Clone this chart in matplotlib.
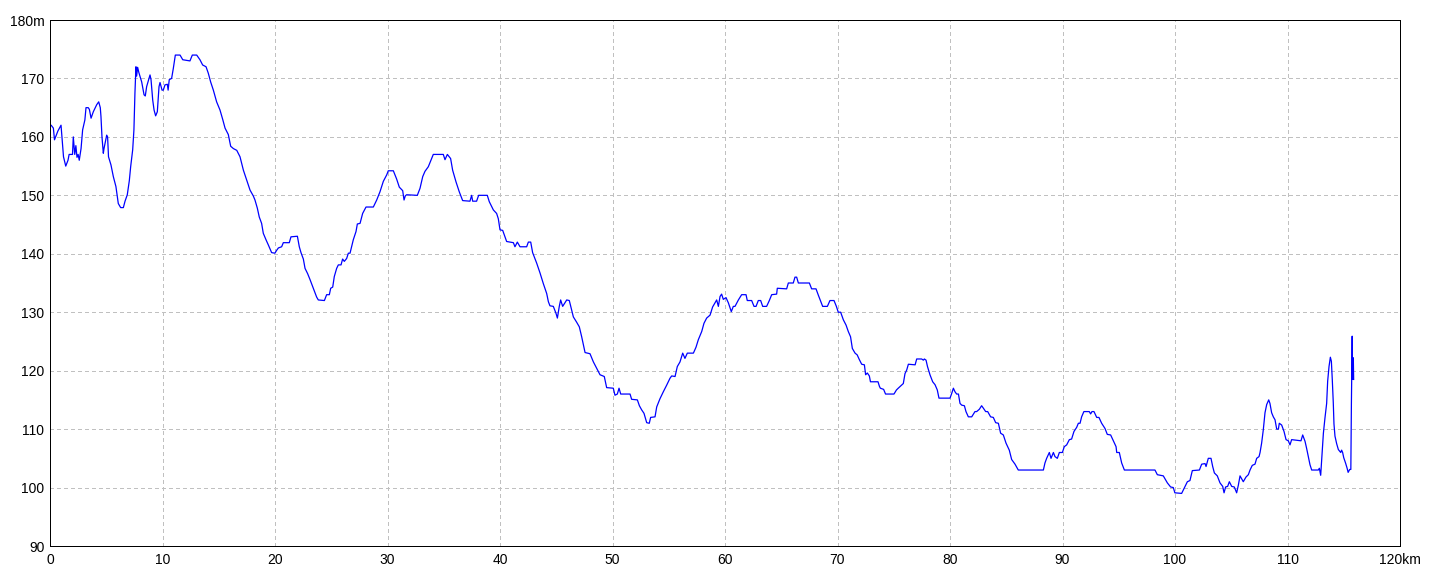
import matplotlib
matplotlib.use('Agg')
import matplotlib.pyplot as plt
from matplotlib.ticker import FuncFormatter

dist_km = [
    0.00, 0.10, 0.30, 0.40, 0.50, 0.70, 0.98, 1.10, 1.20, 1.40, 1.60, 1.70, 2.00, 2.07, 2.20, 2.30,
    2.40, 2.50, 2.60, 2.76, 2.90, 3.10, 3.20, 3.40, 3.50, 3.65, 3.85, 4.15, 4.33, 4.47, 4.53, 4.62,
    4.74, 4.80, 4.95, 5.04, 5.12, 5.20, 5.42, 5.63, 5.86, 6.07, 6.28, 6.52, 6.67, 6.87, 7.05, 7.17,
    7.35, 7.46, 7.55, 7.64, 7.70, 7.79, 7.90, 8.15, 8.36, 8.47, 8.59, 8.77, 8.89, 8.98, 9.13, 9.25,
    9.39, 9.54, 9.69, 9.78, 9.96, 10.07, 10.22, 10.43, 10.50, 10.60, 10.81, 10.96, 11.14, 11.56,
    11.80, 12.44, 12.65, 13.04, 13.33, 13.57, 13.87, 14.07, 14.28, 14.52, 14.81, 15.11, 15.35,
    15.56, 15.85, 16.06, 16.30, 16.60, 16.89, 17.19, 17.48, 17.78, 18.07, 18.22, 18.43, 18.60,
    18.81, 18.96, 19.20, 19.41, 19.70, 19.99, 20.15, 20.30, 20.59, 20.74, 21.27, 21.42, 21.99,
    22.16, 22.31, 22.52, 22.67, 22.90, 23.11, 23.41, 23.70, 23.85, 24.39, 24.59, 24.83, 24.95,
    25.13, 25.27, 25.48, 25.63, 25.87, 26.01, 26.16, 26.37, 26.52, 26.67, 26.81, 26.96, 27.20,
    27.32, 27.56, 27.79, 28.09, 28.74, 29.04, 29.33, 29.63, 29.93, 30.07, 30.52, 30.81, 31.05,
    31.35, 31.47, 31.58, 31.70, 32.65, 32.89, 33.13, 33.33, 33.63, 33.84, 34.07, 34.96, 35.11,
    35.32, 35.61, 35.79, 36.09, 36.38, 36.68, 37.33, 37.48, 37.57, 37.92, 38.10, 38.87, 39.05,
    39.41, 39.70, 39.85, 40.00, 40.24, 40.59, 41.19, 41.33, 41.54, 41.78, 42.37, 42.52, 42.73,
    42.90, 43.26, 43.56, 43.85, 44.15, 44.30, 44.44, 44.74, 44.98, 45.10, 45.27, 45.39, 45.57,
    45.93, 46.16, 46.52, 46.81, 47.05, 47.26, 47.56, 48.00, 48.30, 48.59, 48.89, 49.27, 49.48,
    50.07, 50.22, 50.43, 50.58, 50.73, 51.56, 51.70, 52.21, 52.39, 52.59, 52.80, 53.04, 53.27,
    53.39, 53.78, 53.93, 54.22, 54.52, 54.81, 55.11, 55.26, 55.56, 55.76, 56.00, 56.24, 56.44,
    56.65, 57.19, 57.42, 57.63, 57.93, 58.13, 58.37, 58.67, 58.90, 59.11, 59.26, 59.41, 59.56,
    59.70, 59.85, 60.09, 60.30, 60.56, 60.74, 60.89, 61.19, 61.48, 61.87, 61.98, 62.37, 62.58,
    62.76, 62.96, 63.17, 63.35, 63.70, 63.94, 64.15, 64.59, 64.65, 65.48, 65.63, 66.07, 66.22,
    66.37, 66.52, 67.50, 67.70, 68.09, 68.30, 68.68, 69.10, 69.33, 69.69, 69.90, 70.07, 70.28,
    70.52, 70.76, 70.96, 71.16, 71.32, 71.56, 71.75, 71.94, 72.15, 72.39, 72.50, 72.65, 72.83,
    72.93, 73.60, 73.73, 73.81, 74.10, 74.27, 75.02, 75.24, 75.40, 75.85, 76.00, 76.15, 76.30,
    76.90, 77.04, 77.48, 77.63, 77.72, 77.87, 78.00, 78.22, 78.46, 78.67, 78.87, 79.02, 80.00,
    80.15, 80.30, 80.44, 80.59, 80.75, 80.89, 81.04, 81.28, 81.42, 81.63, 81.93, 82.22, 82.37,
    82.61, 82.81, 82.96, 83.17, 83.35, 83.61, 83.85, 84.06, 84.30, 84.50, 84.74, 84.98, 85.27,
    85.48, 85.78, 86.07, 88.30, 88.44, 88.59, 88.83, 88.98, 89.19, 89.33, 89.54, 89.72, 89.99,
    90.16, 90.37, 90.61, 90.81, 91.02, 91.26, 91.41, 91.56, 91.70, 91.90, 92.38, 92.50, 92.62,
    92.80, 93.04, 93.24, 93.48, 93.78, 93.98, 94.28, 94.52, 94.76, 94.82, 95.05, 95.26, 95.50,
    98.22, 98.43, 98.96, 99.32, 99.61, 99.85, 99.99, 100.59, 100.89, 101.10, 101.33, 101.54,
    102.17, 102.37, 102.67, 102.76, 102.96, 103.20, 103.35, 103.50, 103.76, 104.00, 104.24,
    104.36, 104.50, 104.68, 104.83, 105.04, 105.27, 105.48, 105.63, 105.78, 106.07, 106.31,
    106.52, 106.67, 106.87, 107.11, 107.26, 107.47, 107.56, 107.70, 107.85, 108.00, 108.15,
    108.33, 108.44, 108.59, 108.74, 108.89, 109.04, 109.19, 109.27, 109.48, 109.69, 109.87,
    110.07, 110.22, 110.37, 111.20, 111.35, 111.56, 111.70, 111.85, 112.00, 112.15, 112.74,
    112.83, 112.95, 113.07, 113.19, 113.33, 113.48, 113.57, 113.69, 113.81, 113.90, 113.98,
    114.07, 114.13, 114.22, 114.37, 114.52, 114.73, 114.81, 114.90, 115.00, 115.16, 115.30,
    115.39, 115.53, 115.63, 115.68, 115.75, 115.78, 115.85, 115.88,
]
elev_m = [
    162, 162, 161.5, 159.5, 160, 161, 162, 159, 156.6, 155, 156, 157, 157, 160, 157, 158.5,
    156.5, 157, 156, 158, 161.2, 162.9, 165, 165, 164.7, 163.2, 164.3, 165.5, 166, 165, 163.5, 160,
    157.2, 158, 159.5, 160.3, 160, 156.6, 155.2, 153.2, 151.5, 148.6, 147.9, 147.9, 149, 150.1, 152.5, 154.9,
    157.8, 161.2, 167.5, 172, 170.4, 171.9, 171, 169.4, 167.2, 167, 168.6, 169.8, 170.6, 169.8, 166.3, 164.6,
    163.6, 164.3, 168.6, 169.3, 168, 168, 168.9, 169, 168, 169.8, 170, 171.7, 174, 174,
    173.2, 173, 174, 174, 173.2, 172.3, 172, 170.9, 169.4, 168, 166, 164.6, 163,
    161.5, 160.4, 158.4, 158, 157.7, 156.6, 154.3, 152.6, 150.9, 149.9, 149.2, 147.8, 146.3,
    145.2, 143.5, 142.4, 141.5, 140.2, 140.1, 140.6, 141, 141.2, 141.9, 141.9, 142.9, 143,
    141.2, 140.2, 139.1, 137.5, 136.6, 135.6, 134.1, 132.6, 132.1, 132, 133, 133, 134.1,
    134.3, 136.1, 137.5, 138.1, 138.1, 139.1, 138.7, 139.2, 140.1, 140.1, 141.2, 142.4, 143.8,
    145.1, 145.2, 146.9, 148, 148, 149.2, 150.6, 152.4, 153.5, 154.2, 154.2, 152.8, 151.4,
    150.8, 149.2, 149.9, 150.1, 150, 151.2, 153.2, 154.1, 154.9, 155.9, 157, 157, 156.1,
    157, 156.3, 154.3, 152.3, 150.6, 149.1, 149, 150, 149, 149, 150, 150, 148.9,
    147.5, 146.9, 146, 144.1, 144, 142.1, 141.9, 141.2, 142, 141.2, 141.2, 142, 142,
    140.2, 138.4, 136.7, 134.9, 133.2, 131.8, 131.1, 131, 129.8, 129, 131, 132.1, 131,
    132.1, 132, 129.2, 128.3, 127.5, 125.8, 123.1, 122.9, 121.5, 120.4, 119.3, 119, 117.1,
    117, 115.8, 116, 117, 116, 116, 115.1, 115, 114, 113.3, 112.7, 111.1, 111,
    112, 112.1, 113.8, 115.2, 116.4, 117.5, 118.7, 119.1, 119, 120.7, 121.5, 123, 122.1,
    123, 123, 124, 125.3, 126.7, 128.1, 129, 129.5, 130.9, 131.6, 132.1, 131, 132.7,
    133.1, 132.2, 132.5, 131.6, 130.1, 131, 131, 132.1, 133, 133, 132, 132, 131,
    131, 132, 132, 131, 131, 132, 133, 133.1, 134.1, 134, 135, 135, 136,
    136, 135, 135, 134, 134, 132.9, 131, 131, 132, 132, 131, 130, 130,
    128.7, 127.8, 126.7, 125.8, 123.8, 123, 122.7, 121.9, 121.1, 121, 119.3, 119.6, 119.1,
    118.1, 118.1, 117.3, 117, 116.8, 116, 116, 116.7, 117, 117.8, 119.5, 120.1, 121.1,
    121, 122, 122, 121.8, 122, 121.8, 120.7, 119.3, 118.1, 117.6, 116.7, 115.3, 115.3,
    116.1, 117, 116.4, 116, 116, 114.4, 114.1, 114, 113, 112.1, 112.1, 113, 113,
    113.4, 114, 113.6, 113, 113, 112.1, 112, 111.1, 111, 109.3, 109, 107.6, 106.4,
    104.8, 104, 103, 103, 104.2, 105, 106, 105, 106, 105.3, 105, 106, 106,
    107, 107.3, 108.2, 108.3, 109.6, 110.3, 111, 111, 112.1, 113, 113, 112.6, 113,
    113, 112, 112, 111, 110.1, 109.1, 109, 108, 107, 106, 106, 104.2, 103,
    103, 102.2, 102, 100.8, 100.1, 100, 99.1, 99, 100.2, 101, 101.2, 102.9,
    103, 104, 104.1, 103.6, 105, 105, 103.6, 102.5, 102, 100.8, 100.2,
    99.1, 100.1, 100.2, 101, 100.2, 100.1, 99.1, 100.4, 102, 101, 101.8,
    102.2, 103, 103.8, 104, 105, 105.3, 106, 107.6, 109.9, 112.8, 114.2,
    115, 114.4, 112.8, 112.1, 111.6, 110, 110, 111, 110.7, 109.6, 108.2,
    108, 107.3, 108.2, 108, 109, 107.9, 106.7, 105.3, 103.9, 103, 103,
    103.3, 102.1, 105.6, 109.3, 111.9, 114.4, 118.2, 120.7, 122.3, 121.6, 118.5,
    114.5, 110.9, 108.8, 107.5, 106.5, 106, 106.4, 106, 105.1, 104.2, 103.3,
    102.6, 103.1, 103.1, 114.3, 125.9, 118.5, 122.2, 118.5,
]

x_ticks = list(range(0, 121, 10))
y_ticks = list(range(90, 181, 10))

plt.rcParams['font.family'] = ['Liberation Sans', 'DejaVu Sans']

fig = plt.figure(figsize=(14.4, 5.76), dpi=100)
ax = fig.add_axes([50 / 1440, 30 / 576, 1350 / 1440, 526 / 576])

ax.plot(dist_km, elev_m, color='#0000ff', linewidth=0.9)

ax.set_xlim(0, 120)
ax.set_ylim(90, 180)
ax.set_xticks(x_ticks)
ax.set_yticks(y_ticks)
ax.xaxis.set_major_formatter(FuncFormatter(lambda v, p: f'{int(v)}km' if v == 120 else f'{int(v)}'))
ax.yaxis.set_major_formatter(FuncFormatter(lambda v, p: f'{int(v)}m' if v == 180 else f'{int(v)}'))
ax.tick_params(length=0, labelsize=10, colors='black', pad=4)
ax.tick_params(axis='x', pad=5)

ax.grid(True, color='#c0c0c0', linestyle=(0, (4, 4)), linewidth=0.72, antialiased=False)
ax.set_axisbelow(True)
for s in ax.spines.values():
    s.set_color('black')
    s.set_linewidth(0.72)
    s.set_antialiased(False)

fig.savefig('out.png', dpi=100)
